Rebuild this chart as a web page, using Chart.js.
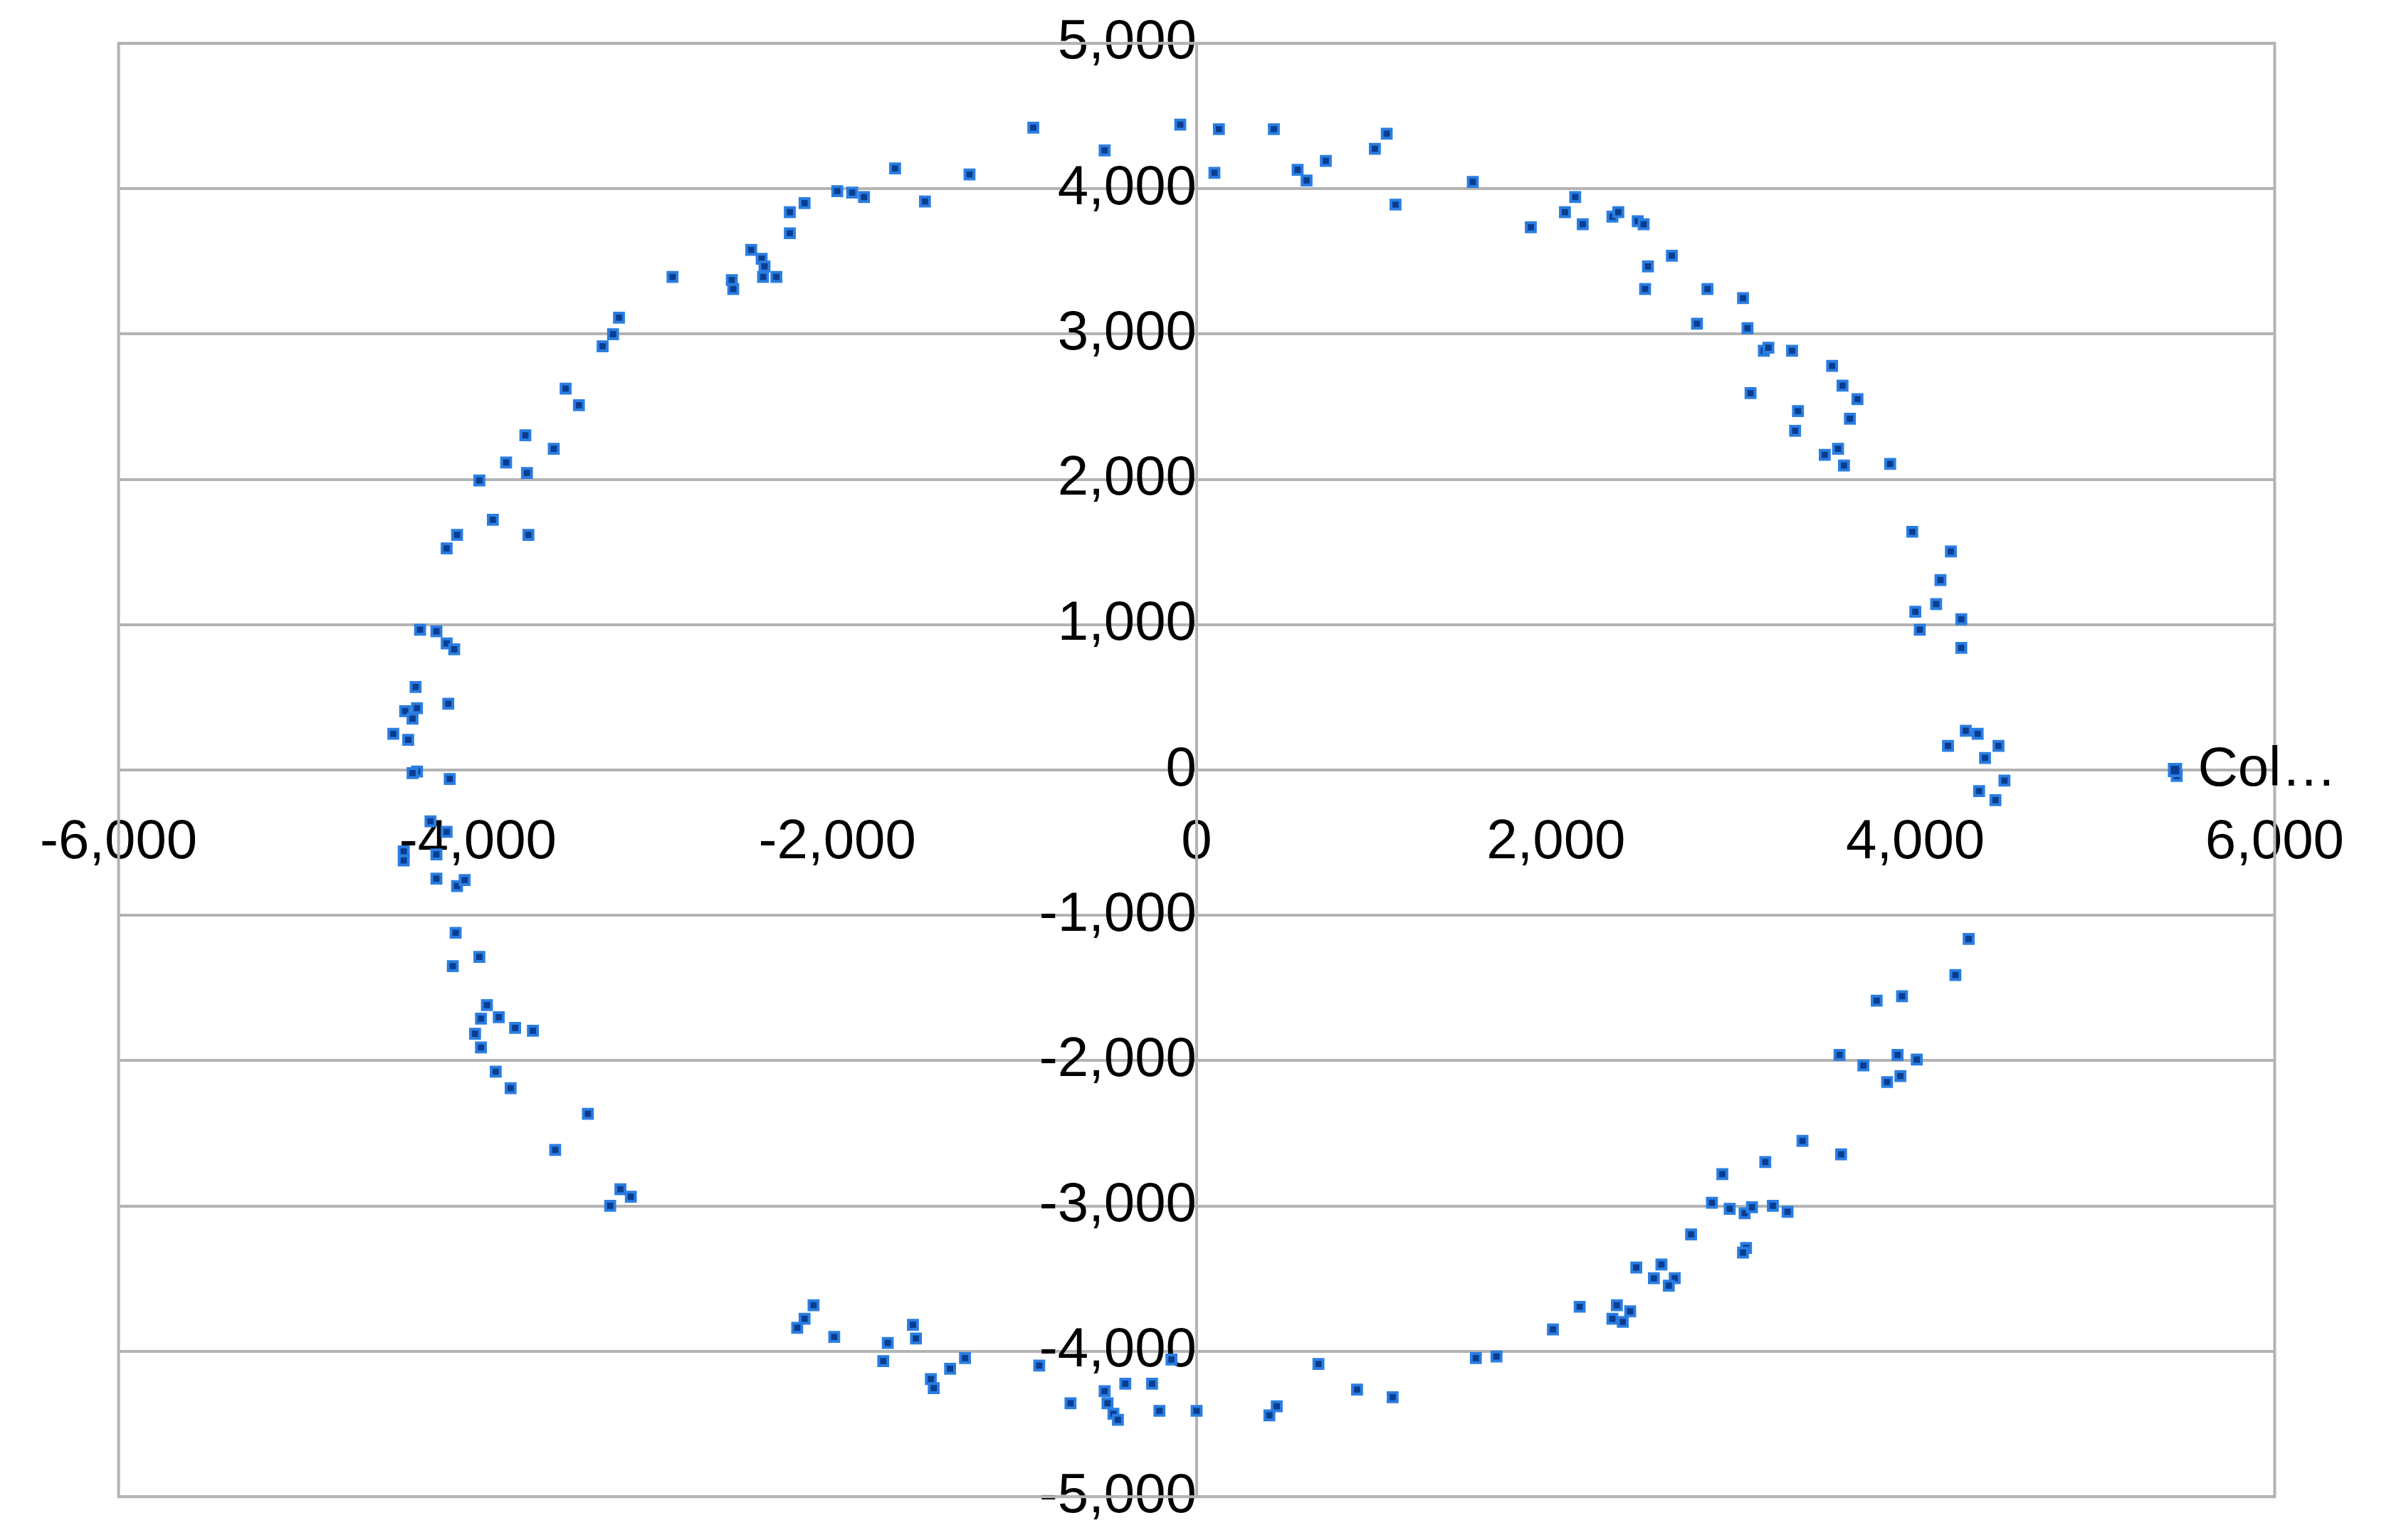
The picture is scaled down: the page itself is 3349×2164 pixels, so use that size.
<!DOCTYPE html>
<html><head><meta charset="utf-8">
<script src="https://cdn.jsdelivr.net/npm/chart.js@4/dist/chart.umd.min.js"></script>
<style>html,body{margin:0;padding:0;background:#fff}#w{width:3349px;height:2164px}</style>
</head><body><div id="w"><canvas id="c"></canvas></div>
<script>
const seriesName = "Column B";
const legendLabel = "Col…";
const xTicks = [-6000,-4000,-2000,0,2000,4000,6000];
const yTicks = [-5000,-4000,-3000,-2000,-1000,0,1000,2000,3000,4000,5000];
const xVals = [-909,-512,-91,124,430,99,562,612,719,992,1058,1107,1537,1860,2050,2107,2149,2314,2347,2455,2488,2512,2496,2645,2785,2843,3041,3066,3157,3182,3314,3083,3347,3331,3537,3595,3678,3636,3570,3496,3603,3860,3983,4198,4140,4116,4000,4025,4256,4256,4182,4281,4347,4463,4388,4496,4355,4446,5455,4297,4223,3785,3926,3578,3711,3901,4008,3917,3843,3372,3587,3165,2926,2868,2967,3050,3091,3207,3289,2752,3058,3041,2587,2545,2661,2628,2447,2132,2339,2413,2314,2372,1983,1554,1669,1091,893,678,446,405,0,-140,-248,-207,-397,-512,-496,-463,-438,-702,-876,-1289,-1372,-1479,-1463,-1719,-1744,-1579,-1562,-2017,-2132,-2182,-2223,-3149,-3207,-3264,-3388,-3570,-3818,-3901,-3694,-3793,-3884,-3950,-3983,-4016,-3983,-3992,-4140,-4124,-4116,-4074,-4174,-4231,-4231,-4264,-4413,-4413,-4157,-4339,-4364,-4471,-4388,-4339,-4405,-4364,-4347,-4165,-4322,-4231,-4174,-4132,-4174,-4116,-3992,-3917,-3719,-3727,-3843,-3736,-3578,-3438,-3512,-3306,-3248,-3215,-2917,-2587,-2579,-2413,-2339,-2479,-2421,-2405,-2264,-2264,-2182,-2000,-1917,-1851,-1678,-1512,-1264];
const yVals = [4419,4263,4440,4409,4409,4108,4129,4056,4191,4274,4378,3890,4046,3734,3838,3942,3755,3807,3838,3776,3755,3465,3309,3538,3071,3309,3247,3040,2884,2905,2884,2593,2469,2334,2780,2645,2552,2417,2210,2168,2095,2106,1639,1504,1307,1141,1089,965,1037,840,166,270,249,166,83,-73,-145,-207,-41,-1162,-1411,-1587,-1556,-1960,-2033,-1960,-1992,-2106,-2147,-2552,-2645,-2697,-2780,-2977,-3019,-3050,-3008,-2998,-3040,-3195,-3288,-3320,-3402,-3496,-3496,-3548,-3423,-3693,-3683,-3724,-3776,-3797,-3849,-4046,-4035,-4315,-4263,-4087,-4378,-4440,-4409,-4056,-4222,-4409,-4222,-4274,-4357,-4429,-4471,-4357,-4098,-4046,-4119,-4191,-4253,-3942,-4067,-3817,-3911,-3900,-3683,-3776,-3838,-2936,-2884,-2998,-2365,-2614,-2189,-2075,-1794,-1774,-1701,-1618,-1711,-1815,-1909,-1286,-1349,-1120,-799,-757,-425,-747,-581,-353,-560,-622,-62,-10,-21,249,207,425,405,353,571,456,965,954,871,830,1525,1618,1992,1722,1618,2043,2116,2303,2210,2510,2624,2915,2998,3112,3392,3371,3309,3392,3392,3579,3517,3465,3693,3838,3900,3983,3973,3942,4139,3911,4098];
const pts = xVals.map((x,i)=>({x, y:yVals[i]}));
const GRAY = '#b3b3b3';
const FONT = {family:'"Liberation Sans", Arial, sans-serif', size:78};
const frame = {id:'frame', afterDraw(ch){
  const {ctx, chartArea:a, scales} = ch;
  ctx.save();
  ctx.strokeStyle = GRAY; ctx.lineWidth = 4;
  ctx.strokeRect(a.left, a.top, a.right-a.left, a.bottom-a.top);
  const y0 = scales.y.getPixelForValue(0);
  const mx = a.right - 140;
  ctx.fillStyle = '#0a3d8f'; ctx.strokeStyle = '#2a7de1'; ctx.lineWidth = 4;
  ctx.fillRect(mx-8, y0-8, 16, 16); ctx.strokeRect(mx-8, y0-8, 16, 16);
  ctx.fillStyle = '#000'; ctx.font = '78px "Liberation Sans", Arial, sans-serif';
  ctx.textBaseline = 'middle'; ctx.textAlign = 'left';
  ctx.fillText(legendLabel, mx + 32, y0);
  ctx.restore();
}};
new Chart(document.getElementById('c'), {
  type:'scatter',
  data:{datasets:[{label:seriesName, data:pts, pointStyle:'rect', pointRadius:9,
    backgroundColor:'#0a3d8f', borderColor:'#2a7de1', borderWidth:4}]},
  options:{
    responsive:true, maintainAspectRatio:false, devicePixelRatio:1, animation:false,
    layout:{padding:{left:120, right:70, top:56, bottom:40}},
    plugins:{legend:{display:false}, tooltip:{enabled:false}},
    scales:{
      x:{type:'linear', position:{y:0}, min:-6000, max:6000,
        afterBuildTicks(s){ s.ticks = xTicks.map(v=>({value:v})); },
        grid:{display:false, drawTicks:false},
        border:{display:true, color:GRAY, width:4},
        ticks:{color:'#000', font:FONT, padding:56, maxRotation:0, autoSkip:false,
          callback:v=>v.toLocaleString('en-US')}},
      y:{type:'linear', position:{x:0}, min:-5000, max:5000,
        afterBuildTicks(s){ s.ticks = yTicks.map(v=>({value:v})); },
        grid:{display:true, color:GRAY, lineWidth:4, drawTicks:false},
        border:{display:true, color:GRAY, width:4},
        ticks:{color:'#000', font:FONT, padding:14, autoSkip:false,
          callback:v=>v.toLocaleString('en-US')}}
    }
  },
  plugins:[frame]
});
</script></body></html>
